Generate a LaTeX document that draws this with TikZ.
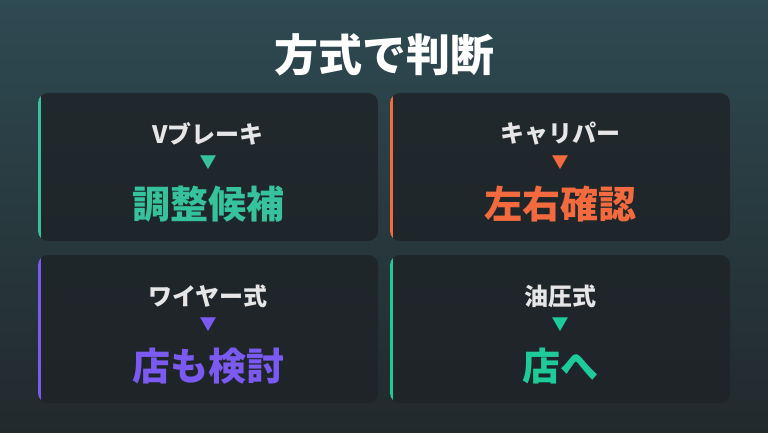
\documentclass[tikz,border=0pt]{standalone}
\usepackage{fontspec}
\setmainfont{Noto Sans CJK JP}
\usetikzlibrary{positioning}
\definecolor{bgA}{HTML}{2E4A52}
\definecolor{bgB}{HTML}{22292C}
\definecolor{cardc}{HTML}{1E2327}
\definecolor{cteal}{HTML}{35C29C}
\definecolor{corange}{HTML}{F26A3D}
\definecolor{cpurple}{HTML}{7A5AF0}
\definecolor{cgreen}{HTML}{1ECB98}
\definecolor{subt}{HTML}{E6E6E6}
\tikzset{
  card/.style={fill=cardc,fill opacity=0.82,rounded corners=10pt,draw=none},
  subl/.style={text=subt,font=\fontsize{24}{28}\selectfont\bfseries},
  mainl/.style={font=\fontsize{38}{44}\selectfont\bfseries},
  tri/.style={font=\fontsize{17}{19}\selectfont}
}
\newcommand{\mycard}[6]{%
  \path[card] (#1,#2) rectangle (#1+340,#2+148);
  \begin{scope}
    \clip[rounded corners=10pt] (#1,#2) rectangle (#1+340,#2+148);
    \fill[#3] (#1,#2) rectangle (#1+3,#2+148);
  \end{scope}
  \node[subl] (#6s) at (#1+170,#2+107) {#4};
  \node[tri,text=#3] (#6t) at (#1+170,#2+78) {▼};
  \node[mainl,text=#3] (#6m) at (#1+170,#2+37) {#5};
}
\begin{document}
\begin{tikzpicture}[x=1pt,y=1pt]
\useasboundingbox (0,0) rectangle (768,432);
\shade[top color=bgA,bottom color=bgB] (0,0) rectangle (768,432);
\node[text=white,font=\fontsize{44}{50}\selectfont\bfseries] (title) at (384,377) {方式で判断};
\mycard{38}{191}{cteal}{Vブレーキ}{調整候補}{a}
\mycard{390}{191}{corange}{キャリパー}{左右確認}{b}
\mycard{38}{29}{cpurple}{ワイヤー式}{店も検討}{c}
\mycard{390}{29}{cgreen}{油圧式}{店へ}{d}
\end{tikzpicture}
\end{document}
